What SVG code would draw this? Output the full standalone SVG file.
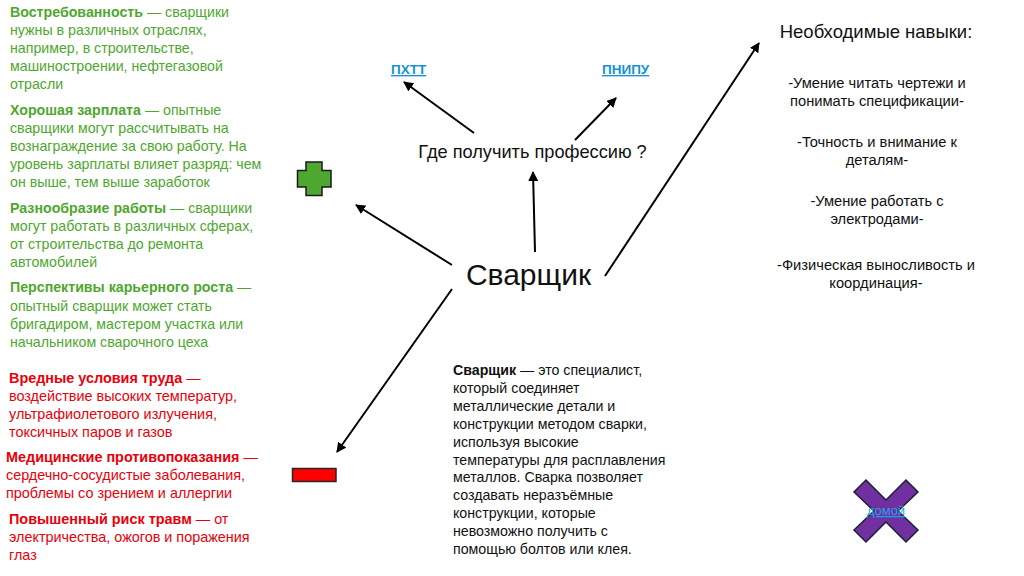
<svg xmlns="http://www.w3.org/2000/svg" width="1024" height="576" viewBox="0 0 1024 576">
<style>
.t{font-family:"Liberation Sans","Noto Sans",sans-serif;}
.g{fill:#4ea72e;font-size:14.2px;}
.r{fill:#e8000b;font-size:14.4px;}
.k{fill:#111;font-size:14.2px;}
.s{fill:#111;font-size:14.7px;}
.b{font-weight:bold;}
.link{fill:#1592d6;font-size:13.5px;font-weight:bold;text-decoration:underline;}
.c{stroke:#000;stroke-width:2;fill:none;marker-end:url(#ah);}
</style>
<defs>
<marker id="ah" viewBox="0 0 10 10" refX="9" refY="5" markerWidth="5" markerHeight="5" orient="auto" markerUnits="strokeWidth">
<path d="M0,0 L10,5 L0,10 z" fill="#000"/>
</marker>
</defs>
<rect width="1024" height="576" fill="#fff"/>

<g id="connectors">
<line class="c" x1="474" y1="133" x2="404" y2="82"/>
<line class="c" x1="575" y1="140" x2="616" y2="98"/>
<line class="c" x1="535" y1="252" x2="533" y2="172"/>
<line class="c" x1="605" y1="276" x2="759" y2="43"/>
<line class="c" x1="452" y1="265" x2="356" y2="205"/>
<line class="c" x1="452" y1="289" x2="337" y2="452"/>
</g>

<g id="pros" class="t g">
<text x="10" y="17"><tspan class="b">Востребованность</tspan> — сварщики</text>
<text x="10" y="35">нужны в различных отраслях,</text>
<text x="10" y="53">например, в строительстве,</text>
<text x="10" y="71">машиностроении, нефтегазовой</text>
<text x="10" y="89">отрасли</text>
<text x="10" y="115"><tspan class="b">Хорошая зарплата</tspan> — опытные</text>
<text x="10" y="133">сварщики могут рассчитывать на</text>
<text x="10" y="151">вознаграждение за свою работу. На</text>
<text x="10" y="169">уровень зарплаты влияет разряд: чем</text>
<text x="10" y="187">он выше, тем выше заработок</text>
<text x="10" y="213"><tspan class="b">Разнообразие работы</tspan> — сварщики</text>
<text x="10" y="231">могут работать в различных сферах,</text>
<text x="10" y="249">от строительства до ремонта</text>
<text x="10" y="267">автомобилей</text>
<text x="10" y="292"><tspan class="b">Перспективы карьерного роста</tspan> —</text>
<text x="10" y="311">опытный сварщик может стать</text>
<text x="10" y="329">бригадиром, мастером участка или</text>
<text x="10" y="347">начальником сварочного цеха</text>
</g>

<g id="cons" class="t r">
<text x="9" y="383"><tspan class="b">Вредные условия труда</tspan> —</text>
<text x="9" y="401">воздействие высоких температур,</text>
<text x="9" y="419">ультрафиолетового излучения,</text>
<text x="9" y="437">токсичных паров и газов</text>
<text x="6" y="462"><tspan class="b">Медицинские противопоказания</tspan> —</text>
<text x="6" y="480">сердечно-сосудистые заболевания,</text>
<text x="6" y="498">проблемы со зрением и аллергии</text>
<text x="9" y="524"><tspan class="b">Повышенный риск травм</tspan> — от</text>
<text x="9" y="542">электричества, ожогов и поражения</text>
<text x="9" y="560">глаз</text>
</g>

<g id="plus">
<path d="M306,162 H322 V170.5 H331 V187 H322 V195.5 H306 V187 H297.5 V170.5 H306 Z" fill="#4ea72e" stroke="#1a1a1a" stroke-width="1.5"/>
</g>

<g id="minus">
<rect x="292.5" y="468.5" width="43.5" height="13" fill="#ff0000" stroke="#262626" stroke-width="1.5"/>
</g>

<g id="center">
<text class="t" x="528.5" y="285" text-anchor="middle" font-size="30" fill="#111">Сварщик</text>
</g>

<g id="where">
<text class="t" x="532.5" y="158" text-anchor="middle" font-size="18.2" fill="#111">Где получить профессию ?</text>
</g>

<g id="pxtt">
<text class="t link" x="391" y="74">ПХТТ</text>
</g>

<g id="pnipu">
<text class="t link" x="602" y="74">ПНИПУ</text>
</g>

<g id="description" class="t k">
<text x="453" y="375"><tspan class="b">Сварщик</tspan> — это специалист,</text>
<text x="453" y="393">который соединяет</text>
<text x="453" y="411">металлические детали и</text>
<text x="453" y="429">конструкции методом сварки,</text>
<text x="453" y="447">используя высокие</text>
<text x="453" y="465">температуры для расплавления</text>
<text x="453" y="482">металлов. Сварка позволяет</text>
<text x="453" y="500">создавать неразъёмные</text>
<text x="453" y="518">конструкции, которые</text>
<text x="453" y="536">невозможно получить с</text>
<text x="453" y="554">помощью болтов или клея.</text>
</g>

<g id="skills" class="t s" text-anchor="middle">
<text x="876" y="38" font-size="18.5">Необходимые навыки:</text>
<text x="877" y="88">-Умение читать чертежи и</text>
<text x="877" y="106">понимать спецификации-</text>
<text x="877" y="147">-Точность и внимание к</text>
<text x="877" y="165">деталям-</text>
<text x="877" y="206">-Умение работать с</text>
<text x="877" y="224">электродами-</text>
<text x="876" y="270">-Физическая выносливость и</text>
<text x="876" y="288">координация-</text>
</g>

<g id="home">
<path d="M866,480 L886,500 L906,480 L918,492 L898,511 L918,530 L906,542 L886,522 L866,542 L854,530 L874,511 L854,492 Z" fill="#7030a0" stroke="#1f1f3a" stroke-width="1.5"/>
<text class="t" x="886" y="515" text-anchor="middle" font-size="13" fill="#1aa3e8" text-decoration="underline">домой</text>
</g>
</svg>
